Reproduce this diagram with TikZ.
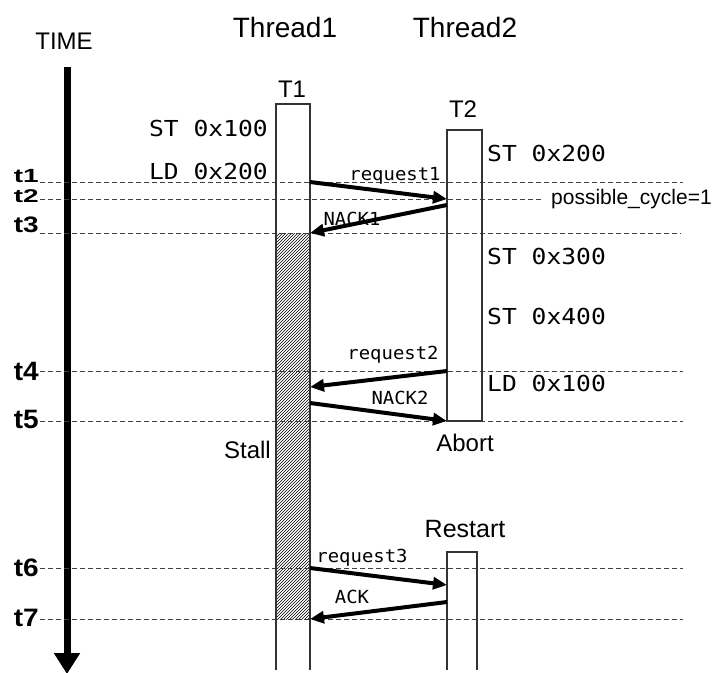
\documentclass[tikz,border=0pt]{standalone}
\usepackage{fontspec}
\usepackage{graphicx}
\setmainfont{Liberation Sans}
\newfontfamily\monof[FakeStretch=1.12]{DejaVu Sans Mono}
\newfontfamily\smallmonof[FakeStretch=1.05]{DejaVu Sans Mono}
\usetikzlibrary{arrows.meta,patterns}
\begin{document}
\begin{tikzpicture}[x=1pt,y=-1pt,
  guide/.style={draw=black!75, line width=0.9pt, dash pattern=on 5pt off 3pt},
  lifeline/.style={draw=black!80, line width=1.1pt},
  msg/.style={line width=4pt, -{Triangle[width=12pt,length=14pt]}},
  tlabel/.style={font=\fontsize{28}{28}\selectfont\bfseries, anchor=east, inner sep=0pt},
  code/.style={font=\monof\fontsize{22}{22}\selectfont, inner sep=0pt},
  msglabel/.style={font=\smallmonof\fontsize{18}{18}\selectfont, inner sep=0pt},
  head/.style={font=\fontsize{28}{28}\selectfont, inner sep=0pt},
  big/.style={font=\fontsize{24}{24}\selectfont, inner sep=0pt},
]
\useasboundingbox (0,0) rectangle (717,672);

% time axis
\node[big] (time) at (64,41) {TIME};
\coordinate (ttop) at (67,67);
\coordinate (tbot) at (67,674);
\draw[line width=7pt, -{Triangle[width=25pt,length=21pt]}] (ttop) -- (tbot);

% headings
\node[head] (th1) at (285,27) {Thread1};
\node[head] (th2) at (465,27) {Thread2};
\node[big] (T1) at (292,89) {T1};
\node[big] (T2) at (463,109) {T2};

% hatched stall region
\fill[pattern=north east lines] (276,233) rectangle (310,619);

% guide lines (squeezed labels near the top)
\foreach \n/\y/\ly/\xe/\vs in {1/182/176/683/0.68, 2/199/196/543/0.66, 3/233/225/681/0.8, 4/371/371/683/0.95, 5/421/419/683/0.95, 6/568/568/683/0.9, 7/619/618/683/0.9}{
  \node[tlabel] (lab\n) at (39,\ly) {\scalebox{1}[\vs]{t\n}};
  \coordinate (gs\n) at (40,\y);
  \coordinate (ge\n) at (\xe,\y);
  \draw[guide] (gs\n) -- (ge\n);
}

% T1 lifeline (open at bottom)
\draw[lifeline] (276,670) -- (276,104) -- (310,104) -- (310,670);
% T2 box
\draw[lifeline] (447,130) rectangle (482,421);
% restart box (open at bottom)
\draw[lifeline] (447,670) -- (447,552) -- (477,552) -- (477,670);

% code texts
\node[code, anchor=east] (st100) at (268,128) {ST 0x100};
\node[code, anchor=east] (ld200) at (268,171) {LD 0x200};
\node[code, anchor=west] (st200) at (487,153) {ST 0x200};
\node[code, anchor=west] (st300) at (487,256) {ST 0x300};
\node[code, anchor=west] (st400) at (487,316) {ST 0x400};
\node[code, anchor=west] (ld100) at (487,383) {LD 0x100};
\node[font=\fontsize{21}{21}\selectfont, anchor=west, inner sep=0pt] (pc) at (551,199) {possible\_cycle=1};

\node[big] (abort) at (465,443) {Abort};
\node[big, anchor=east] (stall) at (271,450) {Stall};
\node[font=\fontsize{25}{25}\selectfont, inner sep=0pt] (restart) at (465,529) {Restart};

% message endpoints
\coordinate (a1) at (310,182); \coordinate (b1) at (447,199);
\coordinate (a2) at (447,205); \coordinate (b2) at (310,233);
\coordinate (a3) at (447,371); \coordinate (b3) at (310,387);
\coordinate (a4) at (310,403); \coordinate (b4) at (447,421);
\coordinate (a5) at (310,568); \coordinate (b5) at (447,585);
\coordinate (a6) at (447,602); \coordinate (b6) at (310,619);

\draw[msg] (a1) -- (b1);
\draw[msg] (a2) -- (b2);
\draw[msg] (a3) -- (b3);
\draw[msg] (a4) -- (b4);
\draw[msg] (a5) -- (b5);
\draw[msg] (a6) -- (b6);

\node[msglabel] (l1) at (395,176) {request1};
\node[msglabel] (l2) at (352,219) {NACK1};
\node[msglabel] (l3) at (393,355) {request2};
\node[msglabel] (l4) at (400,398) {NACK2};
\node[msglabel] (l5) at (362,558) {request3};
\node[msglabel] (l6) at (352,597) {ACK};
\end{tikzpicture}
\end{document}
